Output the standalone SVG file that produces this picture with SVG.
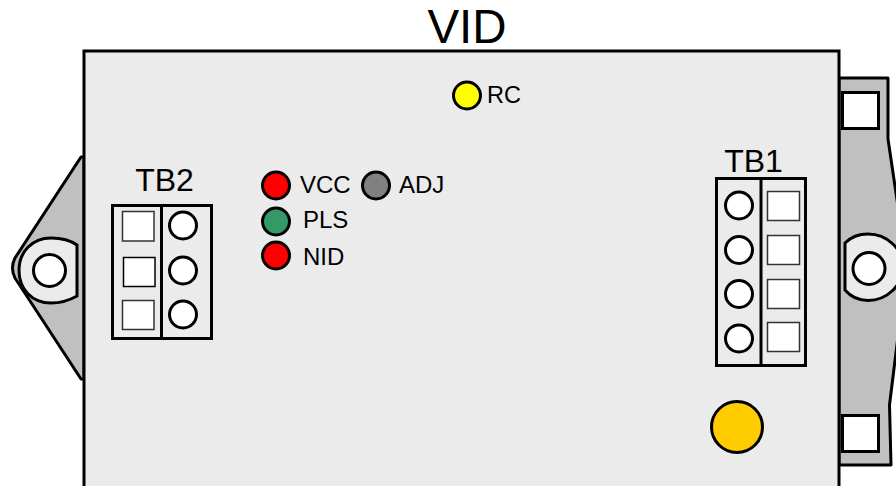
<svg xmlns="http://www.w3.org/2000/svg" width="896" height="486" viewBox="0 0 896 486">
<style>
text{font-family:"Liberation Sans",Arial,sans-serif;fill:#000}
.s{font-size:24px}
.t{font-size:32px}
.tab{fill:#c0c0c0;stroke:#000;stroke-width:3;stroke-linejoin:round}
.washer{fill:#ebebeb;stroke:#000;stroke-width:3}
.hole{fill:#fff;stroke:#000;stroke-width:3}
.block{fill:none;stroke:#000;stroke-width:3}
.sq{fill:#fff;stroke:#333;stroke-width:1.5}
.sqk{fill:#fff;stroke:#000;stroke-width:1.5}
.led{stroke:#000;stroke-width:3}
</style>
<g id="right-tab">
<path class="tab" d="M839,78H888V139L901.500,230V308L889.500,405L891,465H839Z"/>
<rect class="hole" x="842.500" y="92.500" width="36" height="36"/>
<rect class="hole" x="842.500" y="415.500" width="36" height="36"/>
<path class="washer" d="M845,243C851,237 859,234 868,234C887,234 903,249 903,267C903,285 887,300.500 868,300.500C859,300.500 851,297 845,290Z"/>
<circle class="hole" cx="869" cy="268.500" r="16"/>
</g>
<g id="left-tab">
<path class="tab" d="M84,157L81,157L15,258Q10,268 15,278L81,379L84,379Z"/>
<path class="washer" d="M77,245C70,240 60,238 51,238C32,238 19,252 19,270.500C19,289 32,303 51,303C60,303 70,300 77,296Z"/>
<circle class="hole" cx="49.500" cy="270.500" r="16"/>
</g>
<g id="board">
<path d="M84,490V51H839V490" fill="#ebebeb" stroke="#000" stroke-width="3"/>
</g>
<text x="467" y="43" font-size="47.500" text-anchor="middle">VID</text>
<g id="TB2">
<text class="t" x="164.500" y="190.500" text-anchor="middle">TB2</text>
<rect class="block" x="112.500" y="205.500" width="99" height="133"/>
<path class="block" d="M161.500,205V339"/>
<rect class="sq" x="122.500" y="211.500" width="31.500" height="29.500"/>
<rect class="sqk" x="123.500" y="257.500" width="31.500" height="29"/>
<rect class="sq" x="122.500" y="300.500" width="31.500" height="29"/>
<circle class="hole" cx="183" cy="225.500" r="13.500"/>
<circle class="hole" cx="183" cy="270.500" r="13.500"/>
<circle class="hole" cx="183" cy="314.500" r="13.500"/>
</g>
<g id="TB1">
<text class="t" x="753.500" y="172" text-anchor="middle">TB1</text>
<rect class="block" x="716.500" y="178.500" width="89" height="187"/>
<path class="block" d="M761,178V366"/>
<circle class="hole" cx="739" cy="205.500" r="13.500"/>
<circle class="hole" cx="739" cy="250" r="13.500"/>
<circle class="hole" cx="739" cy="294" r="13.500"/>
<circle class="hole" cx="739" cy="338.500" r="13.500"/>
<rect class="sq" x="767.500" y="191.500" width="32" height="29"/>
<rect class="sq" x="767.500" y="235.500" width="32" height="29"/>
<rect class="sq" x="767.500" y="279.500" width="32" height="29"/>
<rect class="sq" x="767.500" y="322.500" width="32" height="29"/>
</g>
<g id="knob"><circle cx="737" cy="427" r="25.500" fill="#ffcc00" stroke="#000" stroke-width="3"/></g>
<g id="RC"><circle class="led" cx="467" cy="95.500" r="13.500" fill="#ff0"/><text class="s" x="487" y="103" style="font-size:23.500px">RC</text></g>
<g id="VCC"><circle class="led" cx="276" cy="185.500" r="13.500" fill="#f00"/><text class="s" x="300" y="193">VCC</text></g>
<g id="ADJ"><circle class="led" cx="376" cy="185.500" r="13.500" fill="#808080"/><text class="s" x="399" y="193">ADJ</text></g>
<g id="PLS"><circle class="led" cx="276" cy="221.500" r="13.500" fill="#339966"/><text class="s" x="303" y="228">PLS</text></g>
<g id="NID"><circle class="led" cx="276" cy="255.500" r="13.500" fill="#f00"/><text class="s" x="303" y="265">NID</text></g>
<g id="connectors"/>
</svg>
